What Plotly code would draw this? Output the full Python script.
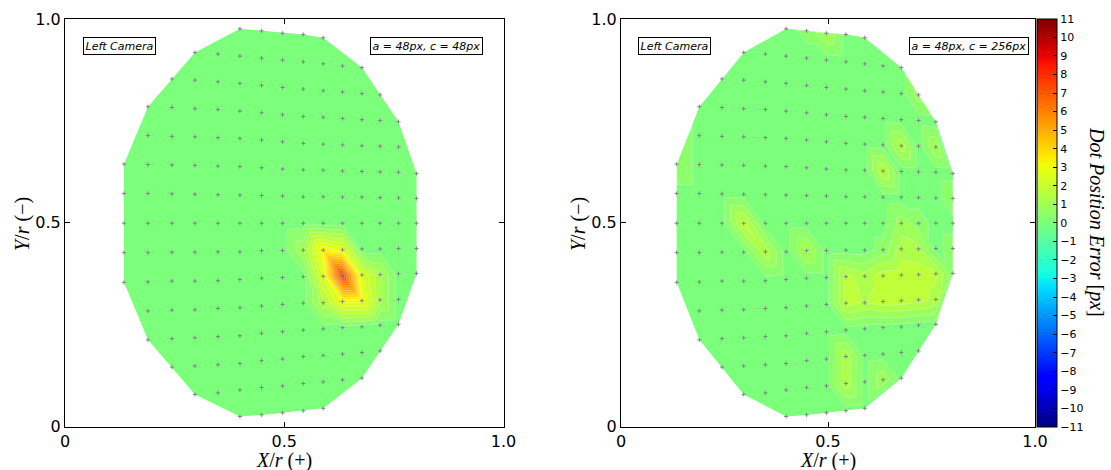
import numpy as np
import plotly.graph_objects as go

# ---------------- data ----------------
# dot grid: x position of each column, first row index, y positions (top -> bottom)
COL_X = [0.1345, 0.1892, 0.2439, 0.2964, 0.3488, 0.3989, 0.4483, 0.4962,
         0.5433, 0.5889, 0.6330, 0.6771, 0.7188, 0.7606, 0.8017]
ROW_START = [5, 3, 2, 1, 1, 0, 0, 0, 0, 0, 1, 1, 2, 3, 5]
COL_Y = [
    [0.644, 0.572, 0.499, 0.427, 0.354],
    [0.785, 0.714, 0.643, 0.572, 0.499, 0.427, 0.355, 0.284, 0.213],
    [0.853, 0.783, 0.712, 0.642, 0.571, 0.499, 0.428, 0.357, 0.286, 0.216, 0.146],
    [0.918, 0.850, 0.780, 0.711, 0.641, 0.570, 0.499, 0.428, 0.357, 0.287, 0.218, 0.149, 0.079],
    [0.914, 0.846, 0.778, 0.709, 0.639, 0.569, 0.499, 0.429, 0.358, 0.290, 0.221, 0.152, 0.083],
    [0.976, 0.909, 0.842, 0.774, 0.707, 0.638, 0.568, 0.499, 0.429, 0.361, 0.292, 0.223, 0.155, 0.090, 0.025],
    [0.971, 0.904, 0.837, 0.770, 0.703, 0.635, 0.567, 0.499, 0.432, 0.364, 0.296, 0.229, 0.162, 0.096, 0.029],
    [0.965, 0.899, 0.832, 0.765, 0.699, 0.632, 0.566, 0.499, 0.432, 0.366, 0.300, 0.233, 0.166, 0.100, 0.034],
    [0.962, 0.895, 0.828, 0.761, 0.695, 0.630, 0.564, 0.499, 0.433, 0.368, 0.303, 0.237, 0.172, 0.106, 0.039],
    [0.954, 0.890, 0.824, 0.759, 0.693, 0.629, 0.564, 0.499, 0.433, 0.369, 0.304, 0.240, 0.175, 0.110, 0.045],
    [0.885, 0.821, 0.756, 0.691, 0.627, 0.563, 0.499, 0.434, 0.370, 0.307, 0.243, 0.178, 0.115],
    [0.881, 0.817, 0.753, 0.689, 0.626, 0.563, 0.499, 0.436, 0.372, 0.309, 0.245, 0.182, 0.119],
    [0.814, 0.751, 0.688, 0.625, 0.562, 0.499, 0.436, 0.373, 0.311, 0.249, 0.186],
    [0.748, 0.686, 0.624, 0.561, 0.499, 0.437, 0.375, 0.312, 0.251],
    [0.621, 0.560, 0.499, 0.437, 0.376],
]

# dot position error [px] per dot, same layout as COL_Y
ERR_LEFT = [
    [0, 0, 0, 0, 0],
    [0, 0, 0, 0, 0, 0, 0, 0, 0],
    [0, 0, 0, 0, 0, 0, 0, 0, 0, 0, 0],
    [0, 0, 0, 0, 0, 0, 0, 0, 0, 0, 0, 0, 0],
    [0, 0, 0, 0, 0, 0, 0, 0, 0, 0, 0, 0, 0],
    [0, 0, 0, 0, 0, 0, 0, 0, 0, 0, 0, 0, 0, 0, 0],
    [0, 0, 0, 0, 0, 0, 0, 0, 0, 0, 0, 0, 0, 0, 0],
    [0, 0, 0, 0, 0, 0, 0, 0, 0, 0, 0, 0, 0, 0, 0],
    [0, 0, 0, 0, 0, 0, 0, 0, 1.0, 0, 0, 0, 0, 0, 0],
    [0, 0, 0, 0, 0, 0, 0, 0, 3.3, 2.5, 1.4, 0, 0, 0, 0],
    [0, 0, 0, 0, 0, 0, 0, 2.7, 7.8, 3.0, 0, 0, 0],
    [0, 0, 0, 0, 0, 0, 0, 0, 2.5, 3.1, 0, 0, 0],
    [0, 0, 0, 0, 0, 0, 0, 1.2, 1.2, 0, 0],
    [0, 0, 0, 0, 0, 0, 0, 0, 0],
    [0, 0, 0, 0, 0],
]
ERR_RIGHT = [
    [0.7, 0, 0, 0, 0],
    [0, 0, 0, 0, 0, 0, 0, 0, 0],
    [0, 0, 0, 0, 0, 0, 0, 0, 0, 0, 0],
    [0, 0, 0, 0, 0, 0, 1.7, 0, 0, 0, 0, 0, 0],
    [0, 0, 0, 0, 0, 0, 0, 1.4, 0, 0, 0, 0, 0],
    [0, 0, 0, 0, 0, 0, 0, 0, 0, 0, 0, 0, 0, 0, 0],
    [0.4, 0, 0, 0, 0, 0, 0, 0, 1.2, 0, 0, 0, 0, 0, 0],
    [1.1, 0, 0, 0, 0, 0, 0, 0, 0, 0, 0, 0, 0, 0, 0],
    [0, 0, 0, 0, 0, 0, 0, 0, 0, 1.7, 1.7, 0, 1.4, 1.4, 0],
    [0, 0, 0, 0, 0, 0, 0, 0, 0, 1.3, 1.5, 0, 0, 0, 0],
    [0, 0, 0, 0, 1.6, 0, 0, 0.4, 1.8, 1.8, 0, 0, 1.0],
    [0, 0, 0, 1.4, 0, 0, 0.9, 1.3, 1.8, 1.8, 0, 0, 0],
    [0.9, 0, 0, 0, 0, 0.5, 1.2, 1.8, 1.7, 0, 0],
    [0, 1.1, 0, 0, 0, 0, 1.6, 1.4, 0],
    [0, 0.7, 0, 0.5, 0.4],
]

PANEL_LABEL = "Left Camera"
PANEL_PARAMS = ["a = 48px, c = 48px", "a = 48px, c = 256px"]
CBAR_TICKS = list(range(-11, 12))
CMIN, CMAX = -11, 11
LEVEL_STEP = 0.44

# matplotlib 'jet'
JET = [
    [0.0, "rgb(0,0,128)"], [0.11, "rgb(0,0,255)"], [0.125, "rgb(0,0,255)"],
    [0.34, "rgb(0,219,255)"], [0.35, "rgb(0,230,247)"], [0.375, "rgb(21,255,226)"],
    [0.64, "rgb(239,255,8)"], [0.65, "rgb(247,246,0)"], [0.66, "rgb(255,236,0)"],
    [0.89, "rgb(255,19,0)"], [0.91, "rgb(232,0,0)"], [1.0, "rgb(128,0,0)"],
]

# ---------------- geometry helpers ----------------
pts, idx = [], {}
for c, ys in enumerate(COL_Y):
    for k, y in enumerate(ys):
        r = ROW_START[c] + k
        idx[(c, r)] = len(pts)
        pts.append((COL_X[c], y))
pts = np.array(pts)
ROW_END = [ROW_START[c] + len(COL_Y[c]) - 1 for c in range(len(COL_Y))]

tris = []
for c in range(len(COL_Y) - 1):
    d = c + 1
    lo, hi = max(ROW_START[c], ROW_START[d]), min(ROW_END[c], ROW_END[d])
    for r in range(lo, hi):
        tris.append((idx[(c, r)], idx[(d, r)], idx[(d, r + 1)]))
        tris.append((idx[(c, r)], idx[(c, r + 1)], idx[(d, r + 1)]))
    if ROW_START[d] < ROW_START[c]:
        for r in range(ROW_START[d], ROW_START[c]):
            tris.append((idx[(c, ROW_START[c])], idx[(d, r)], idx[(d, r + 1)]))
    elif ROW_START[c] < ROW_START[d]:
        for r in range(ROW_START[c], ROW_START[d]):
            tris.append((idx[(d, ROW_START[d])], idx[(c, r)], idx[(c, r + 1)]))
    if ROW_END[d] > ROW_END[c]:
        for r in range(ROW_END[c], ROW_END[d]):
            tris.append((idx[(c, ROW_END[c])], idx[(d, r)], idx[(d, r + 1)]))
    elif ROW_END[c] > ROW_END[d]:
        for r in range(ROW_END[d], ROW_END[c]):
            tris.append((idx[(d, ROW_END[d])], idx[(c, r)], idx[(c, r + 1)]))

nc = len(COL_Y)
loop = [idx[(c, ROW_START[c])] for c in range(nc)]
loop += [idx[(nc - 1, r)] for r in range(ROW_START[-1] + 1, ROW_END[-1] + 1)]
loop += [idx[(c, ROW_END[c])] for c in range(nc - 2, -1, -1)]
loop += [idx[(0, r)] for r in range(ROW_END[0] - 1, ROW_START[0], -1)]


def cross(o, a, b):
    return (a[0] - o[0]) * (b[1] - o[1]) - (a[1] - o[1]) * (b[0] - o[0])


def signed_area(lp):
    return sum(pts[lp[i]][0] * pts[lp[(i + 1) % len(lp)]][1]
               - pts[lp[(i + 1) % len(lp)]][0] * pts[lp[i]][1] for i in range(len(lp)))


orient = np.sign(signed_area(loop))
changed = True
while changed:
    changed = False
    n = len(loop)
    for i in range(n):
        a, b, cc = loop[i - 1], loop[i], loop[(i + 1) % n]
        if cross(pts[a], pts[b], pts[cc]) * orient < -1e-7:
            tris.append((a, b, cc))
            loop.pop(i)
            changed = True
            break

NX, NY = 320, 400
pad = 0.01
gx = np.linspace(pts[:, 0].min() - pad, pts[:, 0].max() + pad, NX)
gy = np.linspace(pts[:, 1].min() - pad, pts[:, 1].max() + pad, NY)
GX, GY = np.meshgrid(gx, gy)


def rasterize(err):
    zv = np.array([v for col in err for v in col], dtype=float)
    Z = np.zeros(GX.shape)
    for t in tris:
        (x0, y0), (x1, y1), (x2, y2) = pts[t[0]], pts[t[1]], pts[t[2]]
        det = (y1 - y2) * (x0 - x2) + (x2 - x1) * (y0 - y2)
        if abs(det) < 1e-12:
            continue
        i0 = max(np.searchsorted(gx, min(x0, x1, x2)) - 1, 0)
        i1 = np.searchsorted(gx, max(x0, x1, x2)) + 1
        j0 = max(np.searchsorted(gy, min(y0, y1, y2)) - 1, 0)
        j1 = np.searchsorted(gy, max(y0, y1, y2)) + 1
        X = GX[j0:j1, i0:i1]
        Y = GY[j0:j1, i0:i1]
        l0 = ((y1 - y2) * (X - x2) + (x2 - x1) * (Y - y2)) / det
        l1 = ((y2 - y0) * (X - x2) + (x0 - x2) * (Y - y2)) / det
        l2 = 1 - l0 - l1
        m = (l0 >= -1e-6) & (l1 >= -1e-6) & (l2 >= -1e-6)
        val = l0 * zv[t[0]] + l1 * zv[t[1]] + l2 * zv[t[2]]
        sub = Z[j0:j1, i0:i1]
        sub[m] = val[m]
    return Z


# white mask outside the convex hull of the dots (keyhole polygon)
hull = list(loop)
if signed_area(hull) > 0:
    hull = hull[::-1]          # clockwise, opposite to the outer rectangle
R0, R1 = -0.05, 1.05
mask_x = [R0, R1, R1, R0, R0] + [pts[i][0] for i in hull] + [pts[hull[0]][0], R0]
mask_y = [R0, R0, R1, R1, R0] + [pts[i][1] for i in hull] + [pts[hull[0]][1], R0]

W, H = 1111, 470
LEFT_PX = (65, 503.5)
RIGHT_PX = (621, 1035)
TOP_PX, BOT_PX = 19, 426.7

fig = go.Figure()
for p, err in enumerate([ERR_LEFT, ERR_RIGHT]):
    xa = "x" if p == 0 else "x2"
    ya = "y" if p == 0 else "y2"
    fig.add_trace(go.Contour(
        x=gx, y=gy, z=rasterize(err), xaxis=xa, yaxis=ya,
        colorscale=JET, zmin=CMIN, zmax=CMAX, zauto=False,
        autocontour=False,
        contours=dict(start=CMIN + LEVEL_STEP / 2, end=CMAX - LEVEL_STEP / 2, size=LEVEL_STEP,
                      coloring="fill", showlines=True),
        line=dict(color="rgba(255,255,255,0.5)", width=0.6),
        showscale=False, hoverinfo="skip",
    ))
    fig.add_trace(go.Scatter(
        x=mask_x, y=mask_y, mode="lines", fill="toself", fillcolor="white",
        line=dict(width=0, color="white"), xaxis=xa, yaxis=ya,
        hoverinfo="skip", showlegend=False,
    ))
    fig.add_trace(go.Scatter(
        x=pts[:, 0], y=pts[:, 1], mode="markers", xaxis=xa, yaxis=ya,
        marker=dict(symbol="cross-thin", size=3, line=dict(width=0.9, color="rgb(130,120,140)")),
        hoverinfo="skip", showlegend=False,
    ))

# continuous colour bar (carried by an off-range dummy marker trace)
fig.add_trace(go.Scatter(
    x=[-5, -5], y=[-5, -5], mode="markers", xaxis="x2", yaxis="y2",
    marker=dict(color=[CMIN, CMAX], colorscale=JET, cmin=CMIN, cmax=CMAX, size=1,
                showscale=True,
                colorbar=dict(
                    x=1037 / W, xanchor="left", y=(H - (TOP_PX + BOT_PX) / 2) / H, yanchor="middle",
                    lenmode="pixels", len=BOT_PX - TOP_PX, thicknessmode="pixels", thickness=20,
                    outlinecolor="black", outlinewidth=1,
                    tickmode="array", tickvals=CBAR_TICKS, ticks="inside", ticklen=4,
                    tickcolor="black", tickfont=dict(family="DejaVu Sans", size=11, color="black"),
                    xpad=0, ypad=0,
                )),
    hoverinfo="skip", showlegend=False,
))

ax_common = dict(range=[0, 1], showgrid=False, zeroline=False, showline=True, linecolor="black",
                 linewidth=1, mirror="ticks", ticks="inside", ticklen=5, tickcolor="black",
                 tickmode="array", tickvals=[0, 0.5, 1], ticktext=["0", "0.5", "1.0"],
                 tickfont=dict(family="DejaVu Sans", size=16, color="black"))
ydom = [(H - BOT_PX) / H, (H - TOP_PX) / H]
fig.update_layout(
    width=W, height=H, margin=dict(l=0, r=0, t=0, b=0, autoexpand=False),
    paper_bgcolor="white", plot_bgcolor="white", showlegend=False,
    xaxis=dict(domain=[LEFT_PX[0] / W, LEFT_PX[1] / W], anchor="y", **ax_common),
    yaxis=dict(domain=ydom, anchor="x", **ax_common),
    xaxis2=dict(domain=[RIGHT_PX[0] / W, RIGHT_PX[1] / W], anchor="y2", **ax_common),
    yaxis2=dict(domain=ydom, anchor="x2", **ax_common),
)

ann = []
serif = dict(family="Liberation Serif", size=20, color="black")
for p, (xa, ya, (x0, x1)) in enumerate([("x", "y", LEFT_PX), ("x2", "y2", RIGHT_PX)]):
    cx = (x0 + x1) / 2 / W
    ann.append(dict(text="<i>X</i>/<i>r</i> (+)", x=cx, y=(H - 460) / H, xref="paper", yref="paper",
                    showarrow=False, font=serif, xanchor="center", yanchor="middle"))
    ann.append(dict(text="<i>Y</i>/<i>r</i> (\u2212)", x=(x0 - 43) / W, y=(H - 224) / H,
                    xref="paper", yref="paper", showarrow=False, font=serif, textangle=-90,
                    xanchor="center", yanchor="middle"))
    box = dict(showarrow=False, bgcolor="white", bordercolor="black", borderwidth=1, borderpad=1.5,
               font=dict(family="DejaVu Sans", size=11, color="black"), yanchor="top")
    ann.append(dict(text="<i>%s</i>" % PANEL_LABEL, xref=xa + " domain", yref=ya + " domain",
                    x=0.041, y=0.956, xanchor="left", **box))
    ann.append(dict(text="<i>%s</i>" % PANEL_PARAMS[p], xref=xa + " domain", yref=ya + " domain",
                    x=0.953 if p == 0 else 0.985, y=0.956, xanchor="right", **box))
ann.append(dict(text="<i>Dot Position Error</i> [<i>px</i>]", x=1097 / W, y=(H - 222) / H,
                xref="paper", yref="paper", showarrow=False, textangle=90,
                font=dict(family="Liberation Serif", size=20, color="black"),
                xanchor="center", yanchor="middle"))
fig.update_layout(annotations=ann)

fig.write_html("out.html", config={"displayModeBar": False},
               post_script="document.body.style.margin='0';document.body.style.overflow='hidden';")
